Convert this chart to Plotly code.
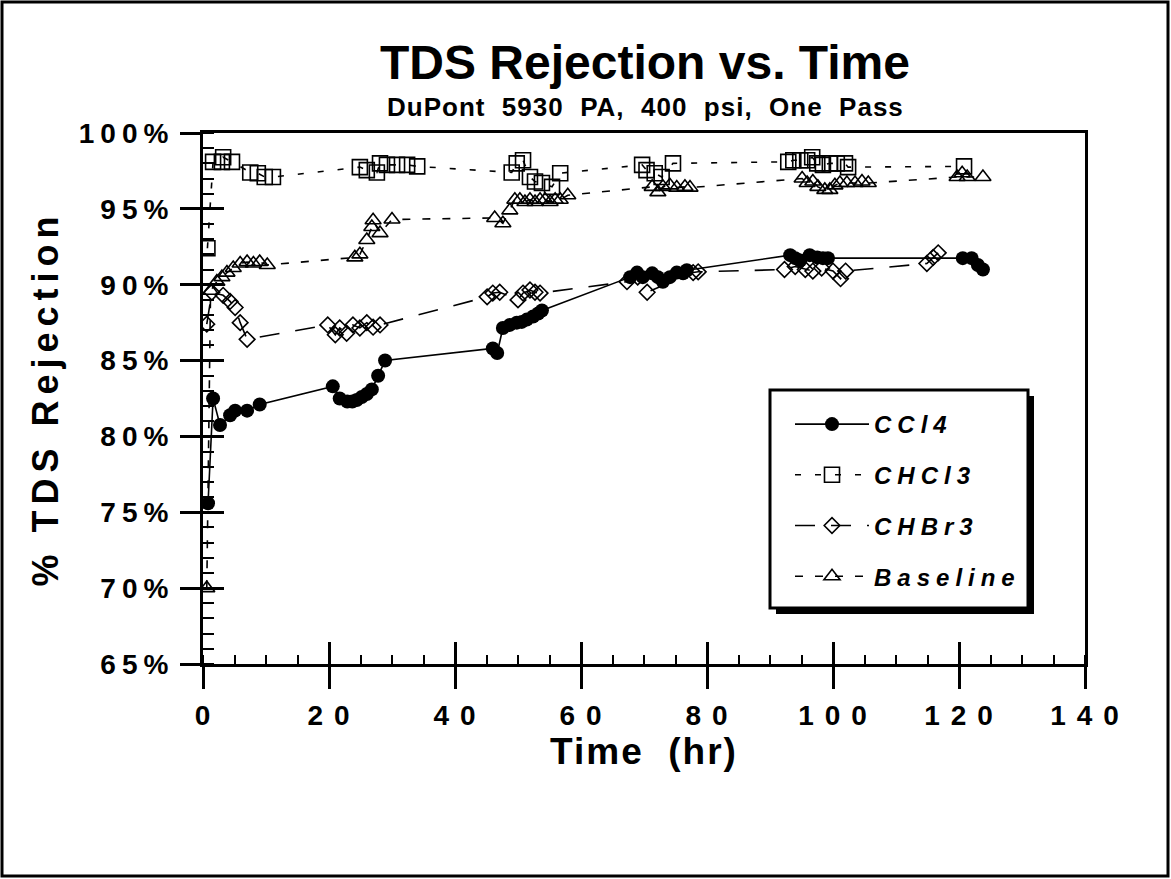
import plotly.graph_objects as go

# ---------------- data ----------------
ccl4_t = [0.8, 1.6, 2.7, 4.3, 5.1, 7.0, 9.0,
          20.6, 21.7, 22.9, 23.7, 24.4, 25.2, 26.0, 26.8, 27.8, 28.9,
          46.0, 46.7, 47.6, 48.7, 49.8, 50.6, 51.4, 52.4, 53.2, 53.8,
          67.8, 68.9, 69.8, 71.3, 72.2, 73.0, 74.1, 75.2, 76.2, 76.8,
          93.2, 94.0, 94.8, 96.3, 97.5, 98.4, 99.2,
          120.6, 122.0, 123.0, 123.8]
ccl4_r = [75.6, 82.5, 80.75, 81.4, 81.7, 81.7, 82.1,
          83.3, 82.5, 82.3, 82.3, 82.4, 82.6, 82.8, 83.1, 84.0, 85.0,
          85.8, 85.5, 87.15, 87.35, 87.5, 87.55, 87.7, 87.9, 88.1, 88.3,
          90.5, 90.8, 90.5, 90.75, 90.5, 90.2, 90.5, 90.8, 90.75, 90.95,
          91.95, 91.75, 91.6, 91.95, 91.8, 91.75, 91.75,
          91.75, 91.75, 91.3, 91.0]

chcl3_t = [0.7, 1.6, 3.0, 3.2, 4.6, 7.5, 8.7, 9.8, 11.1,
           24.9, 26.0, 27.6, 28.1, 29.2, 30.8, 32.4, 34.0,
           49.0, 49.8, 50.8, 51.9, 52.7, 53.8, 55.4, 56.7,
           69.7, 70.4, 71.7, 72.8, 74.6,
           92.9, 93.7, 94.8, 95.9, 96.7, 97.5, 98.4, 99.5, 100.6, 101.9, 102.4,
           120.8]
chcl3_r = [92.4, 98.1, 98.1, 98.4, 98.1, 97.4, 97.35, 97.1, 97.1,
           97.75, 97.55, 97.4, 98.0, 97.9, 97.9, 97.9, 97.8,
           97.4, 98.0, 98.2, 97.1, 96.8, 96.7, 96.45, 97.35,
           97.9, 97.55, 97.35, 97.1, 98.0,
           98.1, 98.2, 98.2, 98.2, 98.4, 98.0, 97.9, 98.0, 98.0, 98.0, 97.75,
           97.8]

chbr3_t = [0.6, 1.4, 3.2, 4.3, 5.1, 5.9, 7.0,
           19.8, 21.0, 21.7, 22.8, 23.8, 24.9, 26.0, 27.0, 28.1,
           45.1, 46.0, 47.1, 50.0, 50.8, 51.9, 52.7, 53.5,
           67.3, 69.0, 70.5, 77.8, 78.6,
           92.3, 94.0, 95.6, 96.8, 98.2, 100.0, 101.2, 102.0,
           114.9, 115.9, 116.7]
chbr3_r = [87.4, 89.5, 89.3, 88.9, 88.5, 87.5, 86.4,
           87.35, 86.7, 87.15, 86.8, 87.35, 87.15, 87.5, 87.2, 87.35,
           89.2, 89.45, 89.5, 89.0, 89.45, 89.65, 89.5, 89.45,
           90.2, 90.5, 89.5, 90.8, 90.85,
           91.0, 91.2, 91.0, 90.9, 91.1, 90.9, 90.4, 90.9,
           91.4, 91.8, 92.1]

base_t = [0.6, 1.2, 2.2, 3.0, 3.8, 4.8, 5.9, 7.0, 8.0, 9.0, 10.2,
          24.1, 24.9, 26.0, 26.8, 27.0, 28.1, 30.0,
          46.3, 47.6, 48.7, 49.5, 50.3, 51.1, 51.9, 52.7, 53.5, 54.3, 55.1, 55.9, 56.7, 57.9,
          71.3, 72.2, 73.0, 74.1, 75.2, 76.5, 77.3,
          95.1, 95.9, 96.8, 97.6, 98.7, 99.5, 100.3, 101.1, 102.2, 103.5, 104.6, 105.6,
          119.7, 120.5, 121.3, 123.8]
base_r = [70.0, 89.6, 90.2, 90.5, 90.8, 91.1, 91.4, 91.5, 91.4, 91.5, 91.3,
          91.8, 92.0, 92.95, 93.8, 94.25, 93.4, 94.3,
          94.4, 94.05, 94.9, 95.6, 95.6, 95.45, 95.6, 95.45, 95.6, 95.6, 95.45, 95.6, 95.6, 95.9,
          96.45, 96.1, 96.45, 96.55, 96.4, 96.45, 96.4,
          97.0, 96.7, 96.8, 96.45, 96.25, 96.25, 96.55, 96.7, 96.7, 96.7, 96.8, 96.7,
          97.1, 97.35, 97.1, 97.1]

series_names = ["CCl4", "CHCl3", "CHBr3", "Baseline"]

x_tickvals = [0, 20, 40, 60, 80, 100, 120, 140]
x_ticktext = ["0", "20", "40", "60", "80", "100", "120", "140"]
y_tickvals = [65, 70, 75, 80, 85, 90, 95, 100]
y_ticktext = ["65%", "70%", "75%", "80%", "85%", "90%", "95%", "100%"]

title_text = "TDS Rejection vs. Time"
subtitle_text = "DuPont  5930  PA,  400  psi,  One  Pass"
x_title = "Time  (hr)"
y_title = "% TDS Rejection"

# ---------------- layout geometry ----------------
W, H = 1171, 879
L, R, T, B = 203, 1085, 133, 664
PW, PH = R - L, B - T


def px_x(px):
    return (px - L) / PW


def px_y(py):
    return 1 - (py - T) / PH


def spaced(text, px):
    return f"<span style='letter-spacing:{px}px'>{text}</span>"


BLACK = "black"
FONT = "Liberation Sans"
fig = go.Figure()

fig.add_trace(go.Scatter(
    x=ccl4_t, y=ccl4_r, name=spaced(series_names[0], 6), legendgroup="a",
    mode="lines+markers",
    line=dict(color=BLACK, width=1.6),
    marker=dict(symbol="circle", size=14, color=BLACK)))
fig.add_trace(go.Scatter(
    x=chcl3_t, y=chcl3_r, name=spaced(series_names[1], 6), legendgroup="b",
    mode="lines+markers",
    line=dict(color=BLACK, width=1.6, dash="6px,14px"),
    marker=dict(symbol="square-open", size=15, color=BLACK, line=dict(width=1.6, color=BLACK))))
fig.add_trace(go.Scatter(
    x=chbr3_t, y=chbr3_r, name=spaced(series_names[2], 6), legendgroup="c",
    mode="lines+markers",
    line=dict(color=BLACK, width=1.6, dash="20px,16px"),
    marker=dict(symbol="diamond-open", size=12, color=BLACK, line=dict(width=1.6, color=BLACK))))
fig.add_trace(go.Scatter(
    x=base_t, y=base_r, name=spaced(series_names[3], 6), legendgroup="d",
    mode="lines+markers",
    line=dict(color=BLACK, width=1.6, dash="8px,12px"),
    marker=dict(symbol="triangle-up-open", size=14, color=BLACK, line=dict(width=1.6, color=BLACK))))
# invisible trace on overlay axes (for crossing major ticks)
fig.add_trace(go.Scatter(x=[None], y=[None], xaxis="x2", yaxis="y2",
                         showlegend=False, hoverinfo="skip"))

tickfont = dict(family=FONT, size=28, color=BLACK, weight="bold")

fig.update_layout(
    width=W, height=H,
    margin=dict(l=L, r=W - R, t=T, b=H - B),
    paper_bgcolor="white", plot_bgcolor="white",
    showlegend=True,
    title=dict(
        text=title_text,
        x=px_x(645), xref="paper", xanchor="center",
        y=1 - 62 / H, yanchor="middle", yref="container",
        font=dict(family=FONT, size=48, color=BLACK, weight="bold")),
    annotations=[dict(
        text=spaced(subtitle_text, 1), x=px_x(645), y=px_y(107),
        xref="paper", yref="paper", xanchor="center", yanchor="middle",
        showarrow=False,
        font=dict(family=FONT, size=26, color=BLACK, weight="bold"))],
    xaxis=dict(
        range=[0, 140], tickvals=x_tickvals,
        ticktext=[spaced(t, 11) for t in x_ticktext],
        ticks="outside", ticklen=22, tickwidth=3, tickcolor=BLACK,
        minor=dict(ticks="inside", ticklen=9, tickwidth=2, dtick=5, tickcolor=BLACK),
        showline=True, linewidth=3, linecolor=BLACK, mirror=True,
        showgrid=False, zeroline=False,
        tickfont=tickfont, ticklabelstandoff=2, ticklabelshift=5,
        title=dict(text=spaced(x_title, 2),
                   font=dict(family=FONT, size=37, color=BLACK, weight="bold"),
                   standoff=5)),
    yaxis=dict(
        range=[65, 100], tickvals=y_tickvals,
        ticktext=[spaced(t, 6) for t in y_ticktext],
        ticks="outside", ticklen=20, tickwidth=3, tickcolor=BLACK,
        minor=dict(ticks="inside", ticklen=11, tickwidth=2, dtick=1, tickcolor=BLACK),
        showline=True, linewidth=3, linecolor=BLACK, mirror=True,
        showgrid=False, zeroline=False,
        tickfont=tickfont, ticklabelstandoff=0,
        title=dict(text=spaced(y_title, 6),
                   font=dict(family=FONT, size=36, color=BLACK, weight="bold"),
                   standoff=10)),
    xaxis2=dict(range=[0, 140], overlaying="x", side="bottom",
                tickvals=x_tickvals, ticks="inside", ticklen=22, tickwidth=3,
                tickcolor=BLACK, showticklabels=False, showgrid=False,
                zeroline=False, showline=False),
    yaxis2=dict(range=[65, 100], overlaying="y", side="left",
                tickvals=y_tickvals, ticks="inside", ticklen=21, tickwidth=3,
                tickcolor=BLACK, showticklabels=False, showgrid=False,
                zeroline=False, showline=False),
    legend=dict(
        x=px_x(790), y=px_y(402), xanchor="left", yanchor="top",
        bgcolor="rgba(0,0,0,0)", borderwidth=0,
        font=dict(family=FONT, size=24, color=BLACK,
                  weight="bold", style="italic"),
        itemwidth=74, tracegroupgap=16.5, traceorder="grouped"),
    shapes=[
        # legend shadow + box
        dict(type="rect", xref="paper", yref="paper",
             x0=px_x(776), x1=px_x(1034), y0=px_y(614), y1=px_y(396),
             fillcolor=BLACK, line=dict(width=0), layer="above"),
        dict(type="rect", xref="paper", yref="paper",
             x0=px_x(770), x1=px_x(1028), y0=px_y(608), y1=px_y(390),
             fillcolor="white", line=dict(width=3, color=BLACK), layer="above"),
        # outer picture frame
        dict(type="rect", xref="paper", yref="paper",
             x0=px_x(2), x1=px_x(1168), y0=px_y(876), y1=px_y(2),
             line=dict(width=3, color=BLACK), layer="above"),
    ],
)

fig.write_html("out.html")
